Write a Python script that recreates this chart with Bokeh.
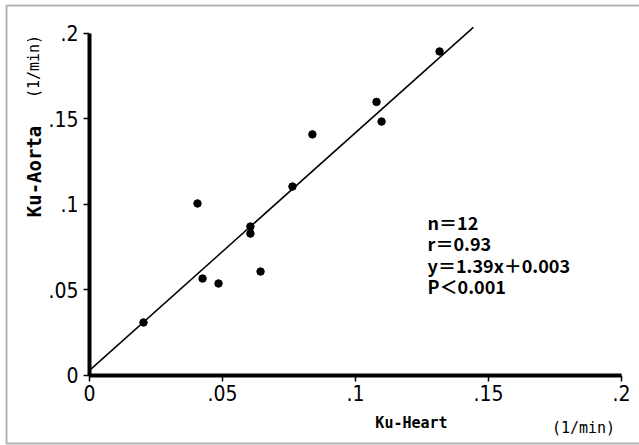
from bokeh.plotting import figure
from bokeh.models import Range1d, FixedTicker, Label, BoxAnnotation, ColumnDataSource, LinearAxis
from bokeh.embed import file_html
from bokeh.resources import INLINE
import numpy as np

# Ku values (1/min)
ku_heart = [0.0203, 0.0425, 0.0485, 0.0605, 0.0605, 0.0643, 0.0406, 0.0763, 0.0838, 0.1079, 0.1098, 0.1316]
ku_aorta = [0.0310, 0.0567, 0.0538, 0.0871, 0.0830, 0.0608, 0.1006, 0.1105, 0.1410, 0.1600, 0.1485, 0.1895]

# regression y = slope * x + intercept
slope = 1.39
intercept = 0.003
fit_x_end = 0.1443

tick_values = [0, 0.05, 0.1, 0.15, 0.2]
tick_labels = ["0", ".05", ".1", ".15", ".2"]
axis_bounds = (0, 0.2)

stats_lines = ["n\uff1d12", "r\uff1d0.93", "y\uff1d1.39x\uff0b0.003", "P\uff1c0.001"]

TICK_FONT = "DejaVu Sans Condensed"
STAT_FONT = "Noto Sans CJK JP"
MONO = "DejaVu Sans Mono"

# The plotting area fills the whole canvas; axes sit at x=0 / y=0.
p = figure(width=639, height=445, output_backend="svg", toolbar_location=None,
           x_range=Range1d(-0.033459, 0.206767), y_range=Range1d(-0.040936, 0.219298),
           x_axis_location=None, y_axis_location=None,
           min_border=0)
p.grid.visible = False
p.outline_line_color = None
p.background_fill_color = "white"
p.border_fill_color = "white"

xaxis = LinearAxis(fixed_location=0, bounds=axis_bounds)
yaxis = LinearAxis(fixed_location=0, bounds=axis_bounds)
for ax in (xaxis, yaxis):
    ax.ticker = FixedTicker(ticks=tick_values)
    ax.major_label_overrides = {v: s for v, s in zip(tick_values, tick_labels)}
    ax.axis_line_width = 4
    ax.axis_line_color = "black"
    ax.major_tick_line_color = "black"
    ax.major_tick_line_width = 1.5
    ax.major_tick_out = 6
    ax.major_tick_in = 0
    ax.minor_tick_line_color = None
    ax.major_label_text_font = TICK_FONT
    ax.major_label_text_font_size = "21px"
    ax.major_label_text_color = "black"
xaxis.major_label_standoff = 4
yaxis.major_label_standoff = 5
yaxis.major_label_orientation = "horizontal"
p.add_layout(xaxis, "below")
p.add_layout(yaxis, "left")

# outer frame (open on the right)
p.add_layout(BoxAnnotation(left=-0.0312, right=0.4, top=0.2164, bottom=-0.0398,
                           fill_color=None, line_color="black", line_width=2))

# regression line
fx = [0, fit_x_end]
fy = [intercept + slope * v for v in fx]
p.line(fx, fy, line_color="black", line_width=1.5)

# data points
src = ColumnDataSource(dict(x=ku_heart, y=ku_aorta))
p.scatter("x", "y", source=src, size=7.5, fill_color="black", line_color="black")

# statistics
stat_y = [0.0895, 0.0772, 0.0649, 0.0526]
for txt, yy in zip(stats_lines, stat_y):
    p.add_layout(Label(x=0.1271, y=yy, text=txt, text_font=STAT_FONT, text_font_size="18px",
                       text_font_style="bold",
                       text_baseline="middle", text_align="left", text_color="black"))

# axis titles
p.add_layout(Label(x=-0.02105, y=0.1193, text="Ku-Aorta", angle=np.pi / 2,
                   text_font=MONO, text_font_style="bold", text_font_size="19px",
                   text_align="center", text_baseline="middle", text_color="black"))
p.add_layout(Label(x=-0.02105, y=0.1807, text="(1/min)", angle=np.pi / 2,
                   text_font=MONO, text_font_size="15px",
                   text_align="center", text_baseline="middle", text_color="black"))
p.add_layout(Label(x=0.12105, y=-0.02807, text="Ku-Heart",
                   text_font=MONO, text_font_style="bold", text_font_size="15px",
                   text_align="center", text_baseline="middle", text_color="black"))
p.add_layout(Label(x=0.18571, y=-0.03099, text="(1/min)",
                   text_font=MONO, text_font_size="15px",
                   text_align="center", text_baseline="middle", text_color="black"))

open("out.html", "w").write(file_html(p, INLINE))
